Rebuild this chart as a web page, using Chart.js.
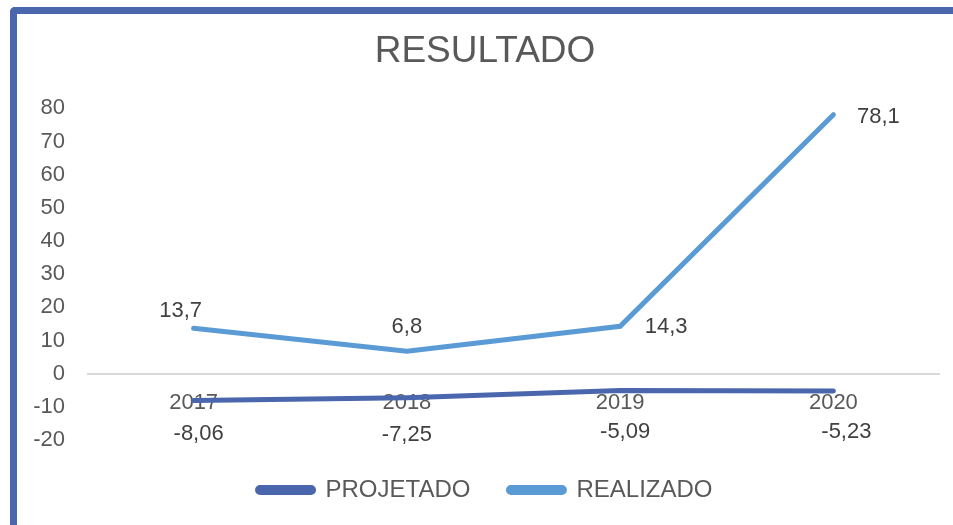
<!DOCTYPE html>
<html>
<head>
<meta charset="utf-8">
<script src="https://cdn.jsdelivr.net/npm/chart.js@4/dist/chart.umd.min.js"></script>
<style>
    html, body { margin: 0; padding: 0; background: #fff; overflow: hidden; }
    #wrap { position: relative; width: 953px; height: 525px; }
    #frame {
        position: absolute; left: 10px; top: 7px; width: 960px; height: 512px;
        border-top: 7px solid #4a66ac; border-left: 7px solid #4a66ac;
        border-bottom: 2px solid #8faadc; border-top-left-radius: 5px;
        pointer-events: none;
    }
</style>
</head>
<body>
<div id="wrap">
    <canvas id="chart" width="953" height="525"></canvas>
    <div id="frame"></div>
</div>
<script>
const years = ['2017', '2018', '2019', '2020'];
const projetado = [-8.06, -7.25, -5.09, -5.23];
const realizado = [13.7, 6.8, 14.3, 78.1];
const yTicks = [80, 70, 60, 50, 40, 30, 20, 10, 0, -10, -20];

// label offsets per point (pixels from the point)
const labelOffsets = {
    0: [[5, 34], [0, 37], [5, 41], [13, 41]],
    1: [[-13, -17], [0, -24], [46, 1], [45, 2]]
};

const fmt = v => String(v).replace('.', ',');

const dataLabels = {
    id: 'dataLabels',
    afterDatasetsDraw(chart) {
        const ctx = chart.ctx;
        ctx.save();
        ctx.font = '22px "Liberation Sans", Arial, sans-serif';
        ctx.fillStyle = '#404040';
        ctx.textAlign = 'center';
        ctx.textBaseline = 'middle';
        chart.data.datasets.forEach((ds, i) => {
            chart.getDatasetMeta(i).data.forEach((pt, j) => {
                const off = labelOffsets[i][j];
                ctx.fillText(fmt(ds.data[j]), pt.x + off[0], pt.y + off[1]);
            });
        });
        ctx.restore();
    }
};

Chart.defaults.font.family = '"Liberation Sans", Arial, sans-serif';
Chart.defaults.color = '#595959';

new Chart(document.getElementById('chart'), {
    type: 'line',
    data: {
        labels: years,
        datasets: [{
            label: 'PROJETADO',
            data: projetado,
            borderColor: '#4a66ac',
            backgroundColor: '#4a66ac',
            borderWidth: 5,
            borderCapStyle: 'round',
            pointRadius: 0,
            tension: 0
        }, {
            label: 'REALIZADO',
            data: realizado,
            borderColor: '#5b9bd5',
            backgroundColor: '#5b9bd5',
            borderWidth: 5,
            borderCapStyle: 'round',
            pointRadius: 0,
            tension: 0
        }]
    },
    options: {
        responsive: false,
        animation: false,
        layout: { padding: { left: 30, right: 13, top: 0, bottom: 13 } },
        plugins: {
            title: {
                display: true,
                text: 'RESULTADO',
                color: '#595959',
                font: { size: 37, weight: 'normal' },
                padding: { top: 30, bottom: 34 }
            },
            legend: {
                position: 'bottom',
                labels: {
                    boxWidth: 56,
                    boxHeight: 5,
                    useBorderRadius: true,
                    borderRadius: 2.5,
                    padding: 38,
                    color: '#595959',
                    font: { size: 24 }
                }
            },
            tooltip: { enabled: false }
        },
        scales: {
            x: {
                position: { y: 0 },
                offset: true,
                z: 1,
                grid: { display: false, drawTicks: false },
                border: { display: false },
                ticks: { padding: 16, color: '#595959', font: { size: 22 } }
            },
            y: {
                min: -20,
                max: 80,
                afterFit(scale) { scale.width = 57; },
                afterBuildTicks(scale) { scale.ticks = yTicks.map(v => ({ value: v })); },
                grid: {
                    drawTicks: false,
                    lineWidth: 2,
                    color: c => c.tick && c.tick.value === 0 ? '#d9d9d9' : 'rgba(0,0,0,0)'
                },
                border: { display: false },
                ticks: { padding: 22, color: '#595959', font: { size: 22 } }
            }
        }
    },
    plugins: [dataLabels]
});
</script>
</body>
</html>
